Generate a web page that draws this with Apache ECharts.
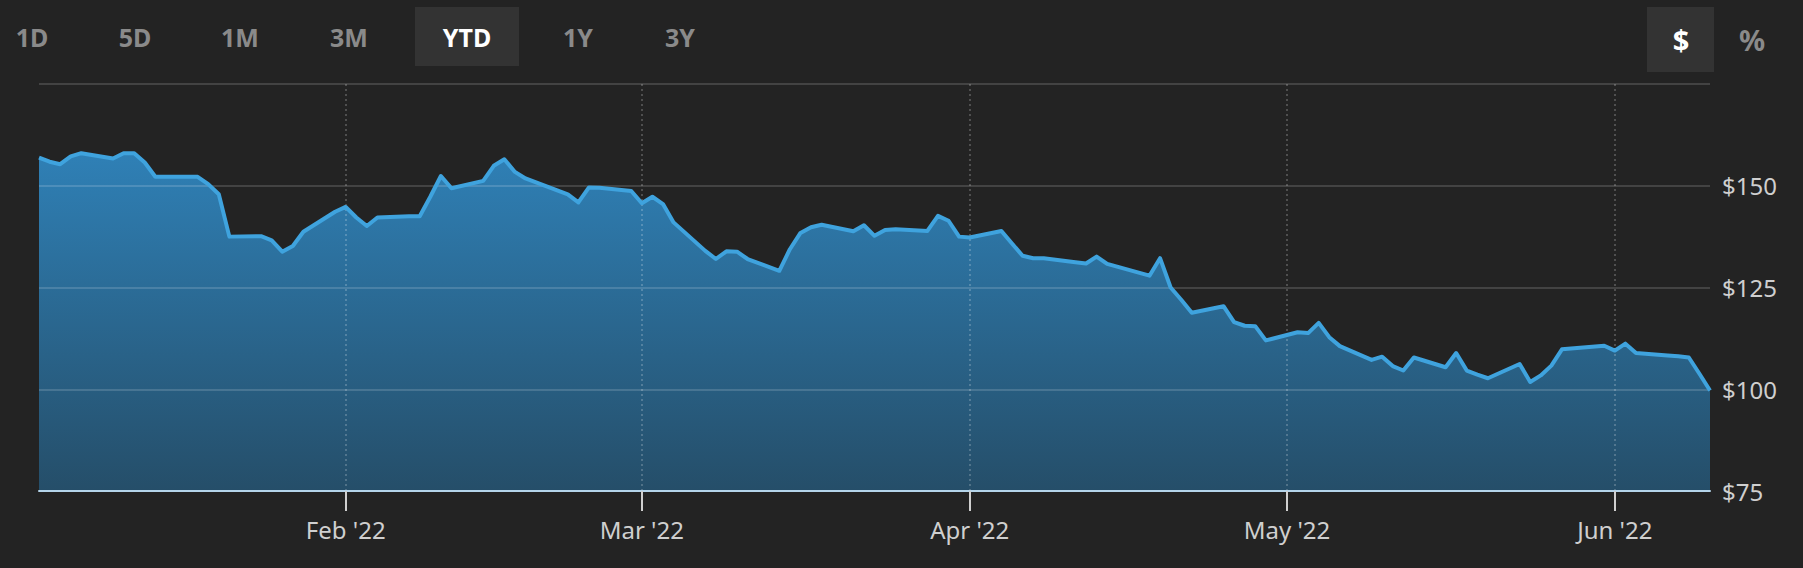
<!DOCTYPE html>
<html>
<head>
<meta charset="utf-8">
<script src="https://cdn.jsdelivr.net/npm/echarts@6/dist/echarts.min.js"></script>
<style>
  html, body { margin: 0; padding: 0; background: #232323; }
  #chart { width: 1803px; height: 568px; }
</style>
</head>
<body>
<div id="chart"></div>
<script>
// ---- data (daily closes, YTD 2022) ----
const dates = [
  '2022-01-03','2022-01-04','2022-01-05','2022-01-06','2022-01-07',
  '2022-01-10','2022-01-11','2022-01-12','2022-01-13','2022-01-14',
  '2022-01-18','2022-01-19','2022-01-20','2022-01-21',
  '2022-01-24','2022-01-25','2022-01-26','2022-01-27','2022-01-28',
  '2022-01-31','2022-02-01','2022-02-02','2022-02-03','2022-02-04',
  '2022-02-07','2022-02-08','2022-02-09','2022-02-10','2022-02-11',
  '2022-02-14','2022-02-15','2022-02-16','2022-02-17','2022-02-18',
  '2022-02-22','2022-02-23','2022-02-24','2022-02-25',
  '2022-02-28','2022-03-01','2022-03-02','2022-03-03','2022-03-04',
  '2022-03-07','2022-03-08','2022-03-09','2022-03-10','2022-03-11',
  '2022-03-14','2022-03-15','2022-03-16','2022-03-17','2022-03-18',
  '2022-03-21','2022-03-22','2022-03-23','2022-03-24','2022-03-25',
  '2022-03-28','2022-03-29','2022-03-30','2022-03-31','2022-04-01',
  '2022-04-04','2022-04-05','2022-04-06','2022-04-07','2022-04-08',
  '2022-04-11','2022-04-12','2022-04-13','2022-04-14',
  '2022-04-18','2022-04-19','2022-04-20','2022-04-21','2022-04-22',
  '2022-04-25','2022-04-26','2022-04-27','2022-04-28','2022-04-29',
  '2022-05-02','2022-05-03','2022-05-04','2022-05-05','2022-05-06',
  '2022-05-09','2022-05-10','2022-05-11','2022-05-12','2022-05-13',
  '2022-05-16','2022-05-17','2022-05-18','2022-05-19','2022-05-20',
  '2022-05-23','2022-05-24','2022-05-25','2022-05-26','2022-05-27',
  '2022-05-31','2022-06-01','2022-06-02','2022-06-03',
  '2022-06-06','2022-06-07','2022-06-08','2022-06-09','2022-06-10'
];
const closes = [
  156.9,155.9,155.3,157.2,158.0,
  156.7,158.0,158.0,155.7,152.2,
  152.2,150.4,147.9,137.5,
  137.6,136.6,133.8,135.2,138.7,
  143.6,144.8,142.2,140.1,142.2,
  142.5,142.5,147.3,152.4,149.4,
  151.2,154.9,156.5,153.4,151.8,
  147.9,145.9,149.6,149.5,
  148.7,145.7,147.3,145.5,141.0,
  134.0,132.0,133.9,133.8,132.0,
  129.1,134.4,138.4,139.8,140.4,
  138.8,140.3,137.7,139.1,139.3,
  138.9,142.6,141.4,137.5,137.3,
  138.9,135.8,132.8,132.2,132.2,
  131.2,130.9,132.6,130.8,
  127.9,132.2,125.0,122.0,118.8,
  120.4,116.5,115.6,115.5,112.0,
  114.0,113.8,116.3,112.8,110.6,
  107.2,108.0,105.7,104.6,107.8,
  105.4,108.9,104.6,103.6,102.7,
  106.2,101.8,103.4,105.8,109.8,
  110.7,109.5,111.2,108.9,
  108.3,108.1,107.8,103.8,99.7
];
const monthTicks = ['2022-02-01','2022-03-01','2022-04-01','2022-05-01','2022-06-01'];
const monthNames = ['Jan','Feb','Mar','Apr','May','Jun','Jul','Aug','Sep','Oct','Nov','Dec'];
const rangeButtons = ['1D','5D','1M','3M','YTD','1Y','3Y'];
const selectedRange = 'YTD';
const unitButtons = ['$','%'];
const selectedUnit = '$';
const startDate = '2022-01-03';
const endDate = '2022-06-10';
const yMin = 75, yMax = 175, yStep = 25;

// ---- build ----
function ts(s) { const p = s.split('-').map(Number); return new Date(p[0], p[1] - 1, p[2]).getTime(); }
const seriesData = dates.map((d, i) => [ts(d), closes[i]]);
const tickValues = monthTicks.map(ts);

const FONT = '"Noto Sans", "DejaVu Sans", sans-serif';
const rangeX = [32, 135, 240, 349, 467, 578, 680];
const unitX = [1681, 1752];

const graphics = [];
rangeButtons.forEach((b, i) => {
  const sel = b === selectedRange;
  if (sel) {
    graphics.push({ type: 'rect', shape: { x: rangeX[i] - 52, y: 7, width: 104, height: 59 },
      style: { fill: '#333333' }, z: 1 });
  }
  graphics.push({ type: 'text', x: rangeX[i], y: 37, z: 2,
    style: { text: b, fill: sel ? '#ffffff' : '#8a8a8a', font: 'bold 25px ' + FONT,
      align: 'center', verticalAlign: 'middle' } });
});
unitButtons.forEach((b, i) => {
  const sel = b === selectedUnit;
  if (sel) {
    graphics.push({ type: 'rect', shape: { x: unitX[i] - 34, y: 7, width: 67, height: 65 },
      style: { fill: '#333333' }, z: 1 });
  }
  graphics.push({ type: 'text', x: unitX[i], y: 39, z: 2,
    style: { text: b, fill: sel ? '#ffffff' : '#8a8a8a', font: 'bold 29px ' + FONT,
      align: 'center', verticalAlign: 'middle' } });
});

const chart = echarts.init(document.getElementById('chart'), null, { renderer: 'svg' });
chart.setOption({
  backgroundColor: '#232323',
  animation: false,
  graphic: graphics,
  grid: { left: 39, right: 93, top: 84, bottom: 77, containLabel: false },
  xAxis: {
    type: 'value',
    min: ts(startDate),
    max: ts(endDate),
    z: 5,
    axisLine: { show: true, onZero: false, lineStyle: { color: '#b4d4ea', width: 2 } },
    axisTick: { show: true, length: 20, customValues: tickValues,
      lineStyle: { color: '#cfcfcf', width: 2 } },
    axisLabel: {
      customValues: tickValues,
      color: '#cfcfcf', fontSize: 24, fontFamily: FONT, margin: 26,
      formatter: function (v) {
        const d = new Date(v);
        return monthNames[d.getMonth()] + " '" + String(d.getFullYear()).slice(2);
      }
    },
    splitLine: { show: false }
  },
  yAxis: {
    type: 'value',
    position: 'right',
    min: yMin, max: yMax, interval: yStep,
    z: 4,
    axisLine: { show: false },
    axisTick: { show: false },
    axisLabel: {
      color: '#cfcfcf', fontSize: 24, fontFamily: FONT, margin: 12,
      formatter: v => (v === yMax ? '' : '$' + v)
    },
    splitLine: { show: true, lineStyle: { color: 'rgba(255,255,255,0.15)', width: 2 } }
  },
  series: [
    {
      type: 'line', data: seriesData, z: 1, symbol: 'none', silent: true,
      lineStyle: { width: 0 },
      areaStyle: {
        opacity: 1,
        color: new echarts.graphic.LinearGradient(0, 0, 0, 1, [
          { offset: 0, color: '#2f80b6' },
          { offset: 1, color: '#254e69' }
        ])
      },
      markLine: {
        silent: true, symbol: 'none', z: 3,
        label: { show: false },
        lineStyle: { color: 'rgba(255,255,255,0.2)', width: 2, type: [2, 3] },
        data: tickValues.map(v => ({ xAxis: v }))
      }
    },
    {
      type: 'line', data: seriesData, z: 6, symbol: 'none',
      lineStyle: { width: 4, color: '#3fa3de', join: 'round' }
    }
  ]
});
</script>
</body>
</html>
